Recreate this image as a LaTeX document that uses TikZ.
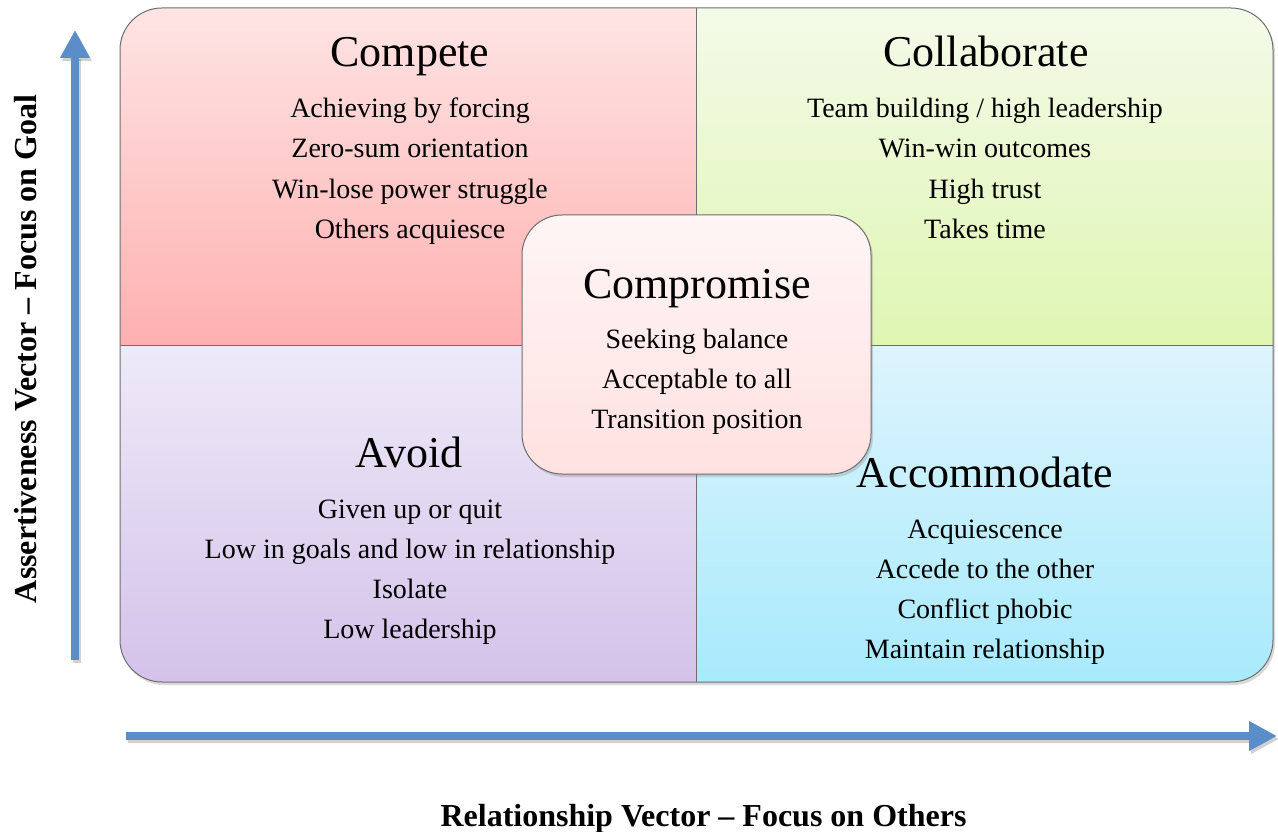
\documentclass[tikz,border=0pt]{standalone}
\usepackage{fontspec}
\setmainfont{Liberation Serif}
\usetikzlibrary{shadows,arrows.meta}

\definecolor{cmpTop}{RGB}{255,228,228}
\definecolor{cmpBot}{RGB}{255,176,176}
\definecolor{colTop}{RGB}{244,250,233}
\definecolor{colBot}{RGB}{223,246,178}
\definecolor{avdTop}{RGB}{238,234,248}
\definecolor{avdBot}{RGB}{212,194,234}
\definecolor{accTop}{RGB}{222,244,253}
\definecolor{accBot}{RGB}{168,234,252}
\definecolor{cenTop}{RGB}{255,245,245}
\definecolor{cenBot}{RGB}{255,225,225}
\definecolor{axisBlue}{RGB}{91,142,200}
\definecolor{edgeGray}{RGB}{110,110,110}

\tikzset{
  heading/.style={anchor=base, inner sep=0pt, font=\fontsize{44}{50}\selectfont},
  bodyline/.style={anchor=base, inner sep=0pt, font=\fontsize{28}{40}\selectfont},
  axislabel/.style={anchor=base, inner sep=0pt, font=\fontsize{32}{36}\selectfont\bfseries},
  softshadow/.style={drop shadow={opacity=0.3, shadow xshift=2pt, shadow yshift=-3pt}},
  axisarrow/.style={draw=axisBlue, line width=8pt,
    -{Triangle[length=28pt, width=28pt]}},
  arrowshadow/.style={draw=black, opacity=0.18, line width=8pt,
    -{Triangle[length=28pt, width=28pt]}},
}

\begin{document}
\begin{tikzpicture}[x=1pt, y=-1pt]
\useasboundingbox (0,0) rectangle (1278,832);

% outer frame with four shaded quadrants
\path[softshadow, fill=white, rounded corners=42pt] (120,8) rectangle (1273,682);
\begin{scope}
  \clip[rounded corners=42pt] (120,8) rectangle (1273,682);
  \shade[top color=cmpTop, bottom color=cmpBot] (120,8) rectangle (696,345);
  \shade[top color=colTop, bottom color=colBot] (696,8) rectangle (1273,345);
  \shade[top color=avdTop, bottom color=avdBot] (120,345) rectangle (696,682);
  \shade[top color=accTop, bottom color=accBot] (696,345) rectangle (1273,682);
\end{scope}
\draw[edgeGray, line width=1pt] (696,8) -- (696,682);
\draw[edgeGray, line width=1pt] (120,345) -- (1273,345);
\draw[edgeGray, line width=1pt, rounded corners=42pt] (120,8) rectangle (1273,682);

% Compete
\node[heading] (cpt) at (410,67) {Compete};
\foreach \t [count=\i] in {Achieving by forcing, Zero-sum orientation,
    Win-lose power struggle, Others acquiesce}
  \node[bodyline] (cpt-\i) at (410,{118+40*(\i-1)}) {\t};

% Collaborate
\node[heading] (col) at (986,67) {Collaborate};
\foreach \t [count=\i] in {Team building / high leadership, Win-win outcomes,
    High trust, Takes time}
  \node[bodyline] (col-\i) at (985,{118+40*(\i-1)}) {\t};

% Avoid
\node[heading] (avd) at (409,467) {Avoid};
\foreach \t [count=\i] in {Given up or quit, Low in goals and low in relationship,
    Isolate, Low leadership}
  \node[bodyline] (avd-\i) at (410,{518+40*(\i-1)}) {\t};

% Accommodate
\node[heading] (acc) at (985,487) {Accommodate};
\foreach \t [count=\i] in {Acquiescence, Accede to the other,
    Conflict phobic, Maintain relationship}
  \node[bodyline] (acc-\i) at (985,{538+40*(\i-1)}) {\t};

% Compromise box in the middle
\node[softshadow, draw=edgeGray, line width=1pt, rounded corners=40pt,
      top color=cenTop, bottom color=cenBot,
      minimum width=349pt, minimum height=259pt, inner sep=0pt]
      (cbox) at (696.5,344.5) {};
\node[heading] (cmp) at (697,298) {Compromise};
\foreach \t [count=\i] in {Seeking balance, Acceptable to all, Transition position}
  \node[bodyline] (cmp-\i) at (697,{348+40*(\i-1)}) {\t};

% axes
\coordinate (xs) at (126,736);
\coordinate (xe) at (1277,736);
\coordinate (ys) at (75,660);
\coordinate (ye) at (75,30);
\draw[arrowshadow] ([shift={(2,3)}]xs) -- ([shift={(2,3)}]xe);
\draw[arrowshadow] ([shift={(2,3)}]ys) -- ([shift={(2,3)}]ye);
\draw[axisarrow] (xs) -- (xe);
\draw[axisarrow] (ys) -- (ye);

\node[axislabel] (xlab) at (703.5,826) {Relationship Vector – Focus on Others};
\node[axislabel, rotate=90] (ylab) at (36,349) {Assertiveness Vector – Focus on Goal};
\end{tikzpicture}
\end{document}
